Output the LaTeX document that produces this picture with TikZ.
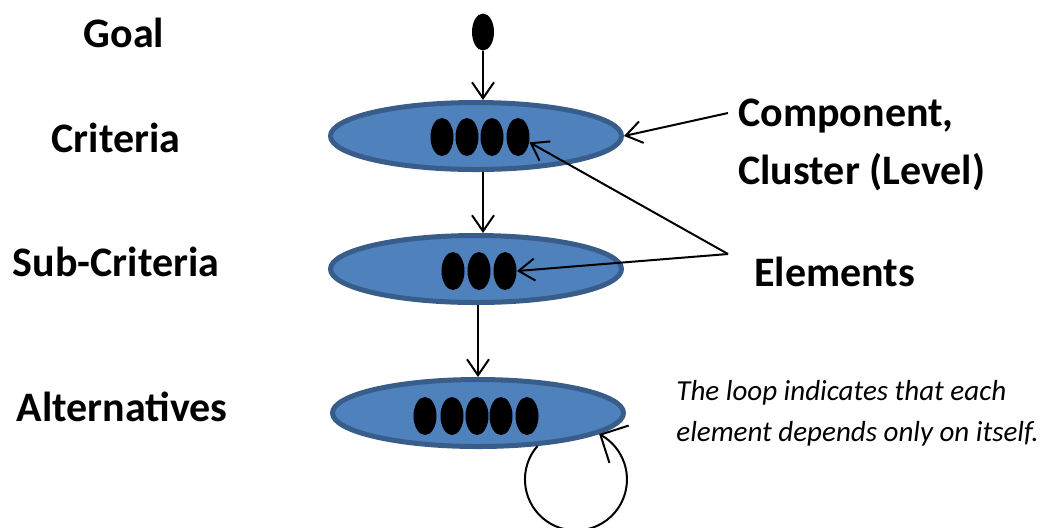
\documentclass[tikz,border=0pt]{standalone}
\usepackage{fontspec}
\setmainfont{Carlito}
\usetikzlibrary{shapes.geometric,arrows.meta,bending}
\definecolor{lvlfill}{HTML}{4F81BD}
\definecolor{lvldraw}{HTML}{385D8A}
\begin{document}
\begin{tikzpicture}[x=0.5pt,y=-0.5pt,
  level/.style={ellipse,draw=lvldraw,fill=lvlfill,line width=2.5pt,
    minimum width=145.5pt,minimum height=33.5pt,inner sep=0pt},
  dot/.style={ellipse,fill=black,minimum width=11.5pt,minimum height=19pt,inner sep=0pt},
  head/.style={font=\fontsize{21}{25}\selectfont\bfseries,inner sep=0pt},
  note/.style={font=\fontsize{14.5}{17}\selectfont\itshape,inner sep=0pt,anchor=base west},
  link/.style={line width=1pt,-{Straight Barb[length=8pt,width=11pt,line width=1pt]}}]
\useasboundingbox (0,0) rectangle (1047,527);

% row labels
\node[head,anchor=base] (tgoal) at (124,47) {Goal};
\node[head,anchor=base] (tcrit) at (116,152) {Criteria};
\node[head,anchor=base] (tsub) at (116,276) {Sub-Criteria};
\node[head,anchor=base] (talt) at (122,421) {Alternatives};

% goal and the three levels
\node[ellipse,fill=black,minimum width=11pt,minimum height=18.5pt,inner sep=0pt] (goal) at (483,32) {};
\node[level] (crit) at (476,136) {};
\node[level] (sub) at (476,269) {};
\node[level] (alt) at (478,413) {};

% elements of each level
\foreach \i/\x in {1/442,2/467,3/492,4/518} \node[dot] (c\i) at (\x,137) {};
\foreach \i/\x in {1/453,2/479,3/505} \node[dot] (s\i) at (\x,271) {};
\foreach \i/\x in {1/425,2/452,3/477,4/501,5/527} \node[dot] (a\i) at (\x,416) {};

% hierarchy arrows
\draw[link] (goal.south) -- (goal.south |- crit.north);
\draw[link] (483,172) -- (483,233);
\draw[link] (478,305) -- (478,377);

% self loop on the alternatives
\draw[line width=1pt,-{Straight Barb[length=10.5pt,width=21pt,line width=1pt,flex]}]
  (alt.-29) arc[start angle=221,end angle=-63,radius=51];

% annotations on the right
\node[head,anchor=base west] (tcomp) at (738,126) {Component,};
\node[head,anchor=base west] (tclus) at (738,184) {Cluster (Level)};
\node[head,anchor=base west] (telem) at (754,286) {Elements};
\node[note] (n1) at (676,400) {The loop indicates that each};
\node[note] (n2) at (676,441) {element depends only on itself.};

\coordinate (compstart) at (728,113);
\coordinate (elemv) at (728,254);
\draw[link] (compstart) -- (crit.east);
\draw[link] (elemv) -- (c4.-25);
\draw[link] (elemv) -- (s3.east);
\end{tikzpicture}
\end{document}
